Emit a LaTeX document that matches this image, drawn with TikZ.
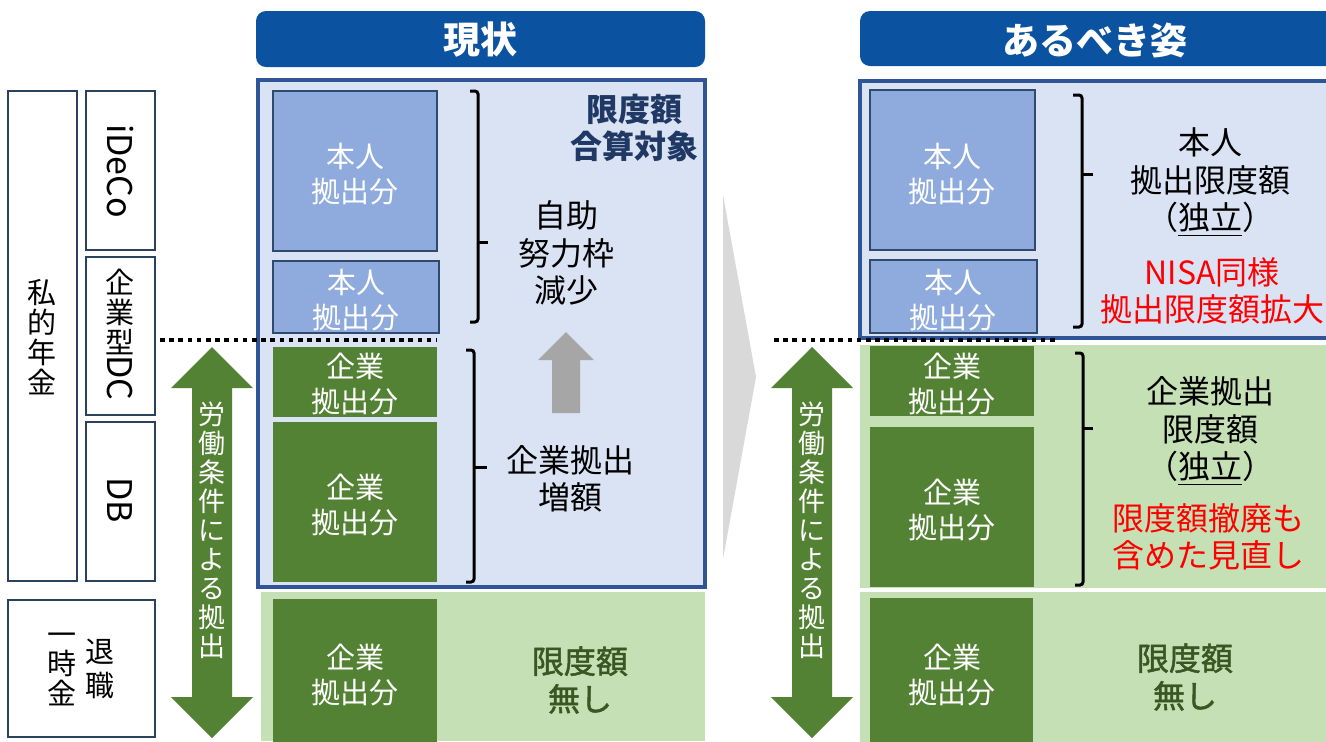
\documentclass[tikz,border=0pt]{standalone}
\usepackage{fontspec}
\setmainfont{Noto Sans CJK JP}
\newfontfamily\medfont{Noto Sans CJK JP}[FakeBold=1.5]
\definecolor{hdrblue}{HTML}{0B52A0}
\definecolor{frameblue}{HTML}{2F5597}
\definecolor{paleblue}{HTML}{DAE3F3}
\definecolor{midblue}{HTML}{8FAADC}
\definecolor{boxedge}{HTML}{2E4A6E}
\definecolor{dkgreen}{HTML}{548235}
\definecolor{ltgreen}{HTML}{C5E0B4}
\definecolor{navytext}{HTML}{203864}
\definecolor{greentext}{HTML}{385723}
\definecolor{chev}{HTML}{D9D9D9}
\definecolor{grayarrow}{HTML}{A6A6A6}
\definecolor{lbledge}{HTML}{2A4260}
\definecolor{redtext}{HTML}{FF0000}
\tikzset{
  wtext/.style={text=white, align=center, font=\fontsize{14.5}{17.5}\selectfont, inner sep=0pt},
  btext/.style={text=black, align=center, font=\fontsize{16}{18.8}\selectfont, inner sep=0pt},
  rtext/.style={text=redtext, align=center, font=\fontsize{16}{18.6}\selectfont, inner sep=0pt},
  vtext/.style={align=center, font=\fontsize{14.5}{15}\selectfont, inner sep=0pt},
  latv/.style={rotate=-90, font=\fontsize{17}{17}\selectfont, inner sep=0pt},
  arrtext/.style={text=white, align=center, font=\fontsize{13.5}{14.5}\selectfont, inner sep=0pt},
  hdrtext/.style={text=white, font=\fontsize{18.5}{20}\selectfont\bfseries, inner sep=0pt},
  brack/.style={line width=1.5pt, rounded corners=1.5pt},
  dotline/.style={line width=2pt, dash pattern=on 2.3pt off 2.3pt},
  gtext/.style={text=greentext, align=center, font=\medfont\fontsize{16}{18.8}\selectfont, inner sep=0pt},
}
\begin{document}
\begin{tikzpicture}[x=0.5pt,y=-0.5pt]
\useasboundingbox (0,0) rectangle (1326,741);
\clip (0,0) rectangle (1326,741);
\fill[white] (0,0) rectangle (1326,741);

% ---------- headers ----------
\fill[hdrblue, rounded corners=5pt] (256,11) rectangle (705,67);
\node[hdrtext] (h1) at (480,40) {現状};
\fill[hdrblue, rounded corners=5pt] (860,11) rectangle (1345,66);
\node[hdrtext] (h2) at (1095,40) {あるべき姿};

% ---------- left labels ----------
\draw[draw=lbledge, line width=1pt, fill=white] (8,91) rectangle (77,581);
\node[vtext] (shiteki) at (42,337) {私\\的\\年\\金};
\draw[draw=lbledge, line width=1pt, fill=white] (86,91) rectangle (155,250);
\node[latv] (ideco) at (120,171) {iDeCo};
\draw[draw=lbledge, line width=1pt, fill=white] (86,257) rectangle (155,415);
\node[vtext] (kigyogata) at (120,312) {企\\業\\型};
\node[latv] (dc) at (120,378) {DC};
\draw[draw=lbledge, line width=1pt, fill=white] (86,422) rectangle (155,581);
\node[latv] (db) at (120,500) {DB};
\draw[draw=lbledge, line width=1pt, fill=white] (8,600) rectangle (155,737);
\node[vtext, font=\fontsize{14.5}{17}\selectfont] (taishoku) at (100,669) {退\\職};
\node[vtext, font=\fontsize{14.5}{14.75}\selectfont] (ichiji) at (62,669) {一\\時\\金};

% ---------- green double arrows ----------
\foreach \cx/\nm in {212/arrL, 812/arrR}{
  \fill[dkgreen] (\cx,347) -- (\cx+41,388) -- (\cx+20,388) -- (\cx+20,697) -- (\cx+41,697)
     -- (\cx,738) -- (\cx-41,697) -- (\cx-20,697) -- (\cx-20,388) -- (\cx-41,388) -- cycle;
  \node[arrtext] (\nm) at (\cx,530) {労\\働\\条\\件\\に\\よ\\る\\拠\\出};
}

% ---------- chevron ----------
\fill[chev] (723,195) -- (756,377) -- (723,559) -- cycle;

% ---------- left panel (現状) ----------
\fill[paleblue] (258,80) rectangle (705,587);
\fill[ltgreen] (261,592) rectangle (705,741);
\fill[midblue] (273,91) rectangle (437,251);
\node[wtext] (l1) at (355,174) {本人\\拠出分};
\draw[boxedge, line width=1pt] (273,91) rectangle (437,251);
\fill[midblue] (273,261) rectangle (439,333);
\begin{scope}
  \clip (273,261) rectangle (439,333);
  \node[wtext] (l2) at (356,300) {本人\\拠出分};
\end{scope}
\draw[boxedge, line width=1pt] (273,261) rectangle (439,333);
\fill[dkgreen] (273,347) rectangle (437,417);
\begin{scope}
  \clip (273,347) rectangle (437,417);
  \node[wtext] (l3) at (355,384) {企業\\拠出分};
\end{scope}
\fill[dkgreen] (273,422) rectangle (437,582);
\node[wtext] (l4) at (355,505) {企業\\拠出分};
\fill[dkgreen] (273,599) rectangle (437,745);
\node[wtext] (l5) at (355,675) {企業\\拠出分};
\draw[frameblue, line width=2pt] (258,80) rectangle (705,587);
\node[align=center, text=navytext, font=\fontsize{16}{18.5}\selectfont\bfseries, inner sep=0pt] (gassan) at (634,128) {限度額\\合算対象};
\node[btext] (jijo) at (566,253) {自助\\努力枠\\減少};
\node[btext] (zougaku) at (570,479) {企業拠出\\増額};
\node[gtext] (nashiL) at (580,680) {限度額\\無し};
\draw[brack] (470,91) -- (478,91) -- (478,322) -- (470,322);
\draw[brack] (478,242) -- (488,242);
\draw[brack] (466,350) -- (474,350) -- (474,582) -- (466,582);
\draw[brack] (474,467) -- (487,467);
\fill[grayarrow] (566,332) -- (594,360) -- (580,360) -- (580,413) -- (552,413) -- (552,360) -- (538,360) -- cycle;

% ---------- right panel (あるべき姿) ----------
\fill[paleblue] (860,81) rectangle (1340,338);
\fill[ltgreen] (860,345) rectangle (1330,588);
\fill[ltgreen] (860,592) rectangle (1330,745);
\fill[midblue] (870,90) rectangle (1035,250);
\node[wtext] (r1) at (952,174) {本人\\拠出分};
\draw[boxedge, line width=1pt] (870,90) rectangle (1035,250);
\fill[midblue] (870,260) rectangle (1037,333);
\begin{scope}
  \clip (870,260) rectangle (1037,333);
  \node[wtext] (r2) at (953,300) {本人\\拠出分};
\end{scope}
\draw[boxedge, line width=1pt] (870,260) rectangle (1037,333);
\fill[dkgreen] (870,346) rectangle (1034,416);
\begin{scope}
  \clip (870,346) rectangle (1034,416);
  \node[wtext] (r3) at (952,384) {企業\\拠出分};
\end{scope}
\fill[dkgreen] (870,427) rectangle (1034,587);
\node[wtext] (r4) at (952,510) {企業\\拠出分};
\fill[dkgreen] (870,598) rectangle (1033,745);
\node[wtext] (r5) at (952,675) {企業\\拠出分};
\draw[frameblue, line width=2.2pt] (860,81) rectangle (1340,338);
\node[btext] (honnin) at (1210,182) {本人\\拠出限度額\\（\underline{独立}）};
\node[rtext] (nisa) at (1212,291) {NISA同様\\拠出限度額拡大};
\node[btext] (kigyo) at (1210,431) {企業拠出\\限度額\\（\underline{独立}）};
\node[rtext] (teppai) at (1208,537) {限度額撤廃も\\含めた見直し};
\node[gtext] (nashiR) at (1185,677) {限度額\\無し};
\draw[brack] (1073,95) -- (1082,95) -- (1082,327) -- (1073,327);
\draw[brack] (1082,174) -- (1093,174);
\draw[brack] (1075,353) -- (1083,353) -- (1083,585) -- (1075,585);
\draw[brack] (1083,428) -- (1093,428);

% ---------- dotted lines ----------
\draw[dotline] (160,340) -- (437,340);
\draw[dotline] (774,340) -- (1055,340);
\end{tikzpicture}
\end{document}
